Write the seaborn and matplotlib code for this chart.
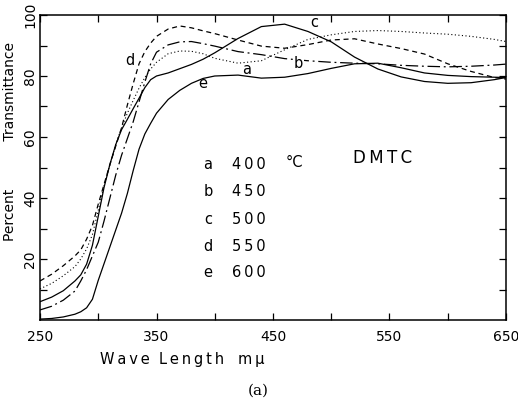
import matplotlib
matplotlib.use("Agg")
import matplotlib.pyplot as plt
import seaborn as sns
import pandas as pd

# Wavelength grid (m\u03bc) and percent transmittance of each film
wavelength = [250, 260, 270, 280, 285, 290, 295, 300, 305, 310, 315, 320, 325, 330,
              335, 340, 345, 350, 360, 370, 380, 390, 400, 420, 440, 460, 480, 500,
              520, 540, 560, 580, 600, 620, 640, 650]

trans_a = [10.2, 12.0, 14.5, 17.5, 20.0, 23.3, 28.0, 36.0, 44.0, 51.0, 57.5, 63.0, 67.8, 72.0,
           76.0, 79.5, 82.3, 84.5, 87.3, 88.2, 88.1, 87.3, 85.8, 84.2, 85.0, 88.6, 92.0, 93.5,
           94.6, 94.9, 94.6, 94.1, 93.7, 93.0, 92.0, 91.3]
trans_b = [3.3, 4.5, 6.5, 9.5, 12.8, 16.5, 21.0, 25.5, 32.5, 40.0, 47.5, 54.0, 59.5, 65.0,
           71.5, 78.0, 84.0, 87.8, 90.2, 91.2, 91.3, 90.6, 89.8, 88.0, 87.0, 85.7, 85.0, 84.5,
           84.2, 84.0, 83.5, 83.2, 83.0, 83.2, 83.6, 83.9]
trans_c = [6.0, 7.5, 9.6, 12.8, 14.8, 18.3, 24.5, 34.0, 43.5, 51.0, 57.5, 62.4, 65.8, 69.3,
           72.7, 76.2, 78.8, 80.0, 81.0, 82.4, 83.8, 85.5, 87.6, 92.3, 96.2, 97.0, 94.6, 91.2,
           86.2, 82.3, 79.7, 78.2, 77.6, 77.8, 78.8, 79.5]
trans_d = [12.8, 15.0, 17.8, 21.0, 23.0, 26.5, 31.0, 38.0, 44.5, 51.0, 57.0, 63.0, 70.5, 77.5,
           84.0, 88.0, 90.8, 93.0, 95.4, 96.4, 95.8, 94.8, 93.9, 91.8, 89.8, 89.1, 90.3, 91.8,
           92.2, 90.5, 89.0, 87.2, 84.0, 81.5, 79.5, 79.0]
trans_e = [0.3, 0.5, 1.0, 1.9, 2.7, 4.0, 6.8, 13.0, 18.5, 24.0, 29.5, 35.0, 41.5, 49.0,
           56.0, 61.0, 64.5, 67.8, 72.3, 75.3, 77.6, 79.2, 80.0, 80.3, 79.3, 79.6, 80.8, 82.5,
           84.0, 84.2, 82.7, 81.0, 80.2, 79.8, 79.6, 79.5]

curve_keys = ["a", "b", "c", "d", "e"]
temperatures = ["400", "450", "500", "550", "600"]

# curve label positions (wavelength, transmittance)
label_x = [427, 472, 485, 327, 390]
label_y = [82.0, 84.2, 97.6, 85.0, 77.6]

x_ticks = [250, 350, 450, 550, 650]
x_minor = [300, 400, 500, 600]
y_ticks = [20, 40, 60, 80, 100]
y_minor = [10, 30, 50, 70, 90]

TS = "\u2009"  # thin space used for letter spacing


def spaced(word):
    return TS.join(word)


df = pd.concat([
    pd.DataFrame({"wl": wavelength, "T": vals, "film": key})
    for key, vals in zip(curve_keys, [trans_a, trans_b, trans_c, trans_d, trans_e])
], ignore_index=True)

sns.set_theme(style="ticks")
plt.rcParams["font.family"] = ["DejaVu Sans"]

fig = plt.figure(figsize=(5.18, 4.01), dpi=100)
ax = fig.add_axes([40 / 518, 1 - 320 / 401, 466 / 518, 305 / 401])

dash_map = {"a": (1, 2.2), "b": (10, 3, 1.5, 3), "c": "", "d": (4, 3), "e": ""}
width_map = {"a": 0.8, "b": 0.9, "c": 0.9, "d": 0.9, "e": 0.9}
for key in curve_keys:
    sns.lineplot(data=df[df["film"] == key], x="wl", y="T", ax=ax, color="black",
                 linewidth=width_map[key], estimator=None, sort=True, legend=False)
    line = ax.lines[-1]
    if dash_map[key]:
        line.set_dashes(dash_map[key])

ax.set_xlim(250, 650)
ax.set_ylim(0, 100)
ax.set_xticks(x_ticks)
ax.set_xticks(x_minor, minor=True)
ax.set_yticks(y_ticks)
ax.set_yticks(y_minor, minor=True)
ax.set_yticklabels([str(v) for v in y_ticks], rotation=90, va="center")
ax.tick_params(which="both", direction="in", top=True, right=True, length=5,
               width=0.9, color="black", labelsize=10, labelcolor="black")
ax.tick_params(axis="x", pad=7)
ax.tick_params(axis="y", pad=2)
for s in ax.spines.values():
    s.set_linewidth(1.1)
    s.set_color("black")
ax.grid(False)

ax.set_xlabel(spaced("Wave") + "  " + spaced("Length") + "   " + spaced("m\u03bc"),
              fontsize=10.5, color="black")
ax.xaxis.set_label_coords(0.305, -0.105)
ax.set_ylabel("Percent" + " " * 11 + "Transmittance", fontsize=10, color="black")
ax.yaxis.set_label_coords(-0.05, 0.585)

# curve letters
for key, lx, ly in zip(curve_keys, label_x, label_y):
    kw = {}
    if key == "b":
        kw["bbox"] = dict(facecolor="white", edgecolor="none", pad=0.5)
    ax.text(lx, ly, key, fontsize=10.5, ha="center", va="center", color="black", **kw)

# key table
row_y = [51.0, 42.1, 32.9, 24.0, 15.6]
for key, temp, ry in zip(curve_keys, temperatures, row_y):
    ax.text(394, ry, key, fontsize=10.5, ha="center", va="center", color="black")
    ax.text(414.5, ry, spaced(temp), fontsize=10.5, ha="left", va="center", color="black")
ax.text(461, row_y[0] + 0.5, "\u00b0C", fontsize=10.5, ha="left", va="center", color="black")
ax.text(544, 53.2, spaced("DMTC"), fontsize=12, ha="center", va="center", color="black")

fig.text(258 / 518, 1 - 391 / 401, "(a)", fontsize=11, ha="center", va="center",
         family="DejaVu Serif", color="black")

fig.savefig("out.png", dpi=100)
